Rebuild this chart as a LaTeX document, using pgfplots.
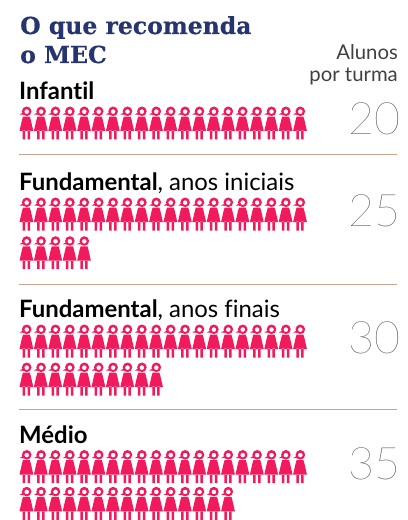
\documentclass[border=0pt]{standalone}
\usepackage{pgfplots}
\pgfplotsset{compat=1.18}
\usepackage{fontspec}
\setmainfont{Lato}[Ligatures=CommonOff]
\newfontfamily\titlefont{DejaVu Serif}[BoldFeatures={FakeBold=0.5}]
\newfontfamily\lightfont{Lato Hairline}
\definecolor{navy}{HTML}{26356F}
\definecolor{pinkc}{HTML}{F01A5C}
\definecolor{rulec}{HTML}{C9A48F}
\definecolor{numc}{HTML}{3A3A3A}
\pgfdeclareplotmark{girl}{%
  % head ring
  \pgfseteorule
  \pgfpathcircle{\pgfpoint{0.3bp}{11.7bp}}{4.8bp}%
  \pgfpathcircle{\pgfpoint{0.3bp}{11.4bp}}{2.4bp}%
  \pgfusepathqfill
  \pgfsetnonzerorule
  % bow
  \pgfpathmoveto{\pgfpoint{-6.8bp}{8.4bp}}%
  \pgfpathlineto{\pgfpoint{-2.5bp}{11.2bp}}%
  \pgfpathlineto{\pgfpoint{-2.2bp}{8.2bp}}%
  \pgfpathclose
  % dress
  \pgfpathmoveto{\pgfpoint{-3.4bp}{6.4bp}}%
  \pgfpathlineto{\pgfpoint{3.4bp}{6.4bp}}%
  \pgfpathlineto{\pgfpoint{4.4bp}{3bp}}%
  \pgfpathlineto{\pgfpoint{6.9bp}{-8bp}}%
  \pgfpathlineto{\pgfpoint{-6.9bp}{-8bp}}%
  \pgfpathlineto{\pgfpoint{-4.4bp}{3bp}}%
  \pgfpathclose
  % legs
  \pgfpathrectangle{\pgfpoint{-3.7bp}{-16.5bp}}{\pgfpoint{2.5bp}{9bp}}%
  \pgfpathrectangle{\pgfpoint{1.2bp}{-16.5bp}}{\pgfpoint{2.5bp}{9bp}}%
  \pgfusepathqfill
}
\pgfplotsset{girls/.style={only marks,mark=girl,color=pinkc,mark options={fill=pinkc,draw=none}}}
\begin{document}
\begin{tikzpicture}[x=1bp,y=1bp]
\useasboundingbox (0,0) rectangle (407,520);
\begin{axis}[
  at={(0,0)},anchor=south west,
  scale only axis,
  width=407bp,height=520bp,
  xmin=0,xmax=407,ymin=0,ymax=520,
  y dir=reverse,
  hide axis,
  clip=false,
]
% rule lines
\addplot[no marks,sharp plot,draw=rulec,line width=1bp] coordinates {(19,155) (397,155)};
\addplot[no marks,sharp plot,draw=rulec,line width=1bp] coordinates {(19,284.5) (397,284.5)};
\addplot[no marks,sharp plot,draw=rulec,line width=1bp] coordinates {(19,409.5) (397,409.5)};
% Infantil: 20
\addplot[girls] coordinates {(26.4,123)(40.8,123)(55.2,123)(69.6,123)(84,123)(98.4,123)(112.8,123)(127.2,123)(141.6,123)(156,123)(170.4,123)(184.8,123)(199.2,123)(213.6,123)(228,123)(242.4,123)(256.8,123)(271.2,123)(285.6,123)(300,123)};
% Fundamental, anos iniciais: 25
\addplot[girls] coordinates {(26.4,214)(40.8,214)(55.2,214)(69.6,214)(84,214)(98.4,214)(112.8,214)(127.2,214)(141.6,214)(156,214)(170.4,214)(184.8,214)(199.2,214)(213.6,214)(228,214)(242.4,214)(256.8,214)(271.2,214)(285.6,214)(300,214)
 (26.4,252.7)(40.8,252.7)(55.2,252.7)(69.6,252.7)(84,252.7)};
% Fundamental, anos finais: 30
\addplot[girls] coordinates {(26.4,341)(40.8,341)(55.2,341)(69.6,341)(84,341)(98.4,341)(112.8,341)(127.2,341)(141.6,341)(156,341)(170.4,341)(184.8,341)(199.2,341)(213.6,341)(228,341)(242.4,341)(256.8,341)(271.2,341)(285.6,341)(300,341)
 (26.4,379)(40.8,379)(55.2,379)(69.6,379)(84,379)(98.4,379)(112.8,379)(127.2,379)(141.6,379)(156,379)};
% Medio: 35
\addplot[girls] coordinates {(26.4,466.5)(40.8,466.5)(55.2,466.5)(69.6,466.5)(84,466.5)(98.4,466.5)(112.8,466.5)(127.2,466.5)(141.6,466.5)(156,466.5)(170.4,466.5)(184.8,466.5)(199.2,466.5)(213.6,466.5)(228,466.5)(242.4,466.5)(256.8,466.5)(271.2,466.5)(285.6,466.5)(300,466.5)
 (26.4,503.3)(40.8,503.3)(55.2,503.3)(69.6,503.3)(84,503.3)(98.4,503.3)(112.8,503.3)(127.2,503.3)(141.6,503.3)(156,503.3)(170.4,503.3)(184.8,503.3)(199.2,503.3)(213.6,503.3)(228,503.3)};
% text
\node[anchor=base west,inner sep=0,text=navy,font=\titlefont\bfseries\fontsize{23.6}{26}\selectfont] at (axis cs:20,34) {O que recomenda};
\node[anchor=base west,inner sep=0,text=navy,font=\titlefont\bfseries\fontsize{23.6}{26}\selectfont] at (axis cs:20,63) {o MEC};
\node[anchor=base east,inner sep=0,text=black!75,font=\fontsize{20.4}{24}\selectfont] at (axis cs:398,60) {Alunos};
\node[anchor=base east,inner sep=0,text=black!75,font=\fontsize{20.4}{24}\selectfont] at (axis cs:398,81.5) {por turma};
\node[anchor=base west,inner sep=0,font=\bfseries\fontsize{24}{26}\selectfont] at (axis cs:19,100) {Infantil};
\node[anchor=base west,inner sep=0,font=\fontsize{24}{26}\selectfont] at (axis cs:19,191) {\textbf{Fundamental}, anos iniciais};
\node[anchor=base west,inner sep=0,font=\fontsize{24}{26}\selectfont] at (axis cs:19,317) {\textbf{Fundamental}, anos finais};
\node[anchor=base west,inner sep=0,font=\bfseries\fontsize{24}{26}\selectfont] at (axis cs:19,443) {Médio};
\node[anchor=base east,inner sep=0,text=numc,font=\lightfont\fontsize{45}{48}\selectfont] at (axis cs:401,135) {20};
\node[anchor=base east,inner sep=0,text=numc,font=\lightfont\fontsize{45}{48}\selectfont] at (axis cs:401,226.5) {25};
\node[anchor=base east,inner sep=0,text=numc,font=\lightfont\fontsize{45}{48}\selectfont] at (axis cs:401,353) {30};
\node[anchor=base east,inner sep=0,text=numc,font=\lightfont\fontsize{45}{48}\selectfont] at (axis cs:401,479) {35};
\end{axis}
\end{tikzpicture}
\end{document}
